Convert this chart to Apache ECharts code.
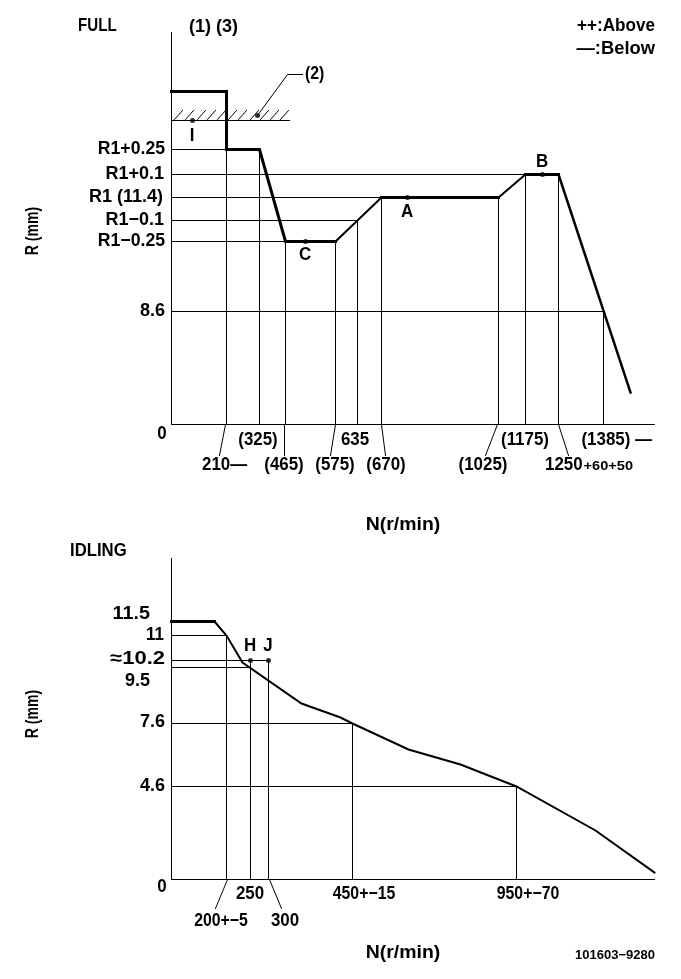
<!DOCTYPE html>
<html>
<head>
<meta charset="utf-8">
<style>html,body{margin:0;padding:0;background:#fff}#main{width:681px;height:979px}</style>
<script src="https://cdn.jsdelivr.net/npm/echarts@6/dist/echarts.min.js"></script>
</head>
<body>
<div id="main"></div>
<script>
// the drawing is a schematic, not to scale, so both axes run in drawing units
var fullHeavy = [[0,333],[55,333],[55,275],[88,275],[114,183],[164,183]];
var fullRise1 = [[164,183],[210,227]];
var fullFlat = [[210,227],[327,227]];
var fullRise2 = [[327,227],[354,250]];
var fullTop = [[354,250],[387,250]];
var fullFall = [[387,250],[459,32]];
var fullLevels = [[275,55],[250,354],[227,210],[204,186],[183,114],[113,432]];
var fullDrops = [[55,275],[88,275],[114,183],[164,183],[186,204],[210,227],[327,227],[354,250],[387,250],[432,113]];
var fullLeaders = [[[54,0],[48,-31]],[[113,0],[113,-31]],[[164,0],[159,-31]],[[210,0],[214,-31]],[[326,0],[314,-31]],[[387,0],[397,-31]]];
var fullDots = [[21,304],[86,309],[134,183],[236,227],[371,250]];
var stopLine = [[1,304],[118,304]];
var stopLeader = [[86,309],[116,350],[131,350]];
var hatchStarts = [3,14,26,36,46,57,67,79,89,99,109];

var idleHeavy = [[0,258],[43,258]];
var idleCurve = [[43,258],[55,244],[71,217],[130,176],[169,162],[181,156],[237,130],[289,115],[345,93],[424,49],[483,7]];
var idleLevels = [[244,55],[219,97],[212,79],[156,181],[93,345]];
var idleDrops = [[55,244],[79,219],[97,219],[181,156],[345,93]];
var idleLeaders = [[[56,0],[44,-29]],[[98,0],[110,-29]]];
var idleSideLeaders = [[[-17,264],[0,258]],[[-17,196],[0,212]]];
var idleDots = [[79,219],[97,219]];

var fullYLabels = ['R1+0.25','R1+0.1','R1 (11.4)','R1\u22120.1','R1\u22120.25','8.6','0'];
var fullXLabels = ['(325)','635','(1175)','(1385) \u2014','210\u2014','(465)','(575)','(670)','(1025)'];
var idleYLabels = ['11.5','11','\u224810.2','9.5','7.6','4.6','0'];
var idleXLabels = ['250','450+\u221215','950+\u221270','200+\u22125','300'];

var FONT = '"Liberation Sans",sans-serif';

function txt(s, x, y, align, sx, size, rot) {
    return {
        type: 'text', x: x, y: y, rotation: rot || 0, scaleX: sx || 0.94, silent: true,
        style: {
            text: s, fill: '#000', align: align || 'center', verticalAlign: 'middle',
            font: 'bold ' + (size || 18) + 'px ' + FONT
        }
    };
}

function line(data, gridIndex, width) {
    return {
        type: 'line', data: data, xAxisIndex: gridIndex, yAxisIndex: gridIndex,
        symbol: 'none', silent: true, clip: false,
        lineStyle: { color: '#000', width: width || 1, cap: 'square', join: 'miter' }
    };
}

var series = [];
// top plot: level lines, drop lines, leaders
fullLevels.forEach(function (l) { series.push(line([[0, l[0]], [l[1], l[0]]], 0)); });
fullDrops.forEach(function (d) { series.push(line([[d[0], 0], [d[0], d[1]]], 0)); });
fullLeaders.forEach(function (l) { series.push(line(l, 0)); });
series.push(line(stopLine, 0));
series.push(line(stopLeader, 0));
hatchStarts.forEach(function (h) { series.push(line([[h, 305], [h + 8, 314]], 0)); });
series.push(line(fullHeavy, 0, 3));
series.push(line(fullRise1, 0, 2));
series.push(line(fullFlat, 0, 3));
series.push(line(fullRise2, 0, 2));
series.push(line(fullTop, 0, 3));
series.push(line(fullFall, 0, 2.5));
series.push({ type: 'scatter', data: fullDots, xAxisIndex: 0, yAxisIndex: 0, symbolSize: 5, itemStyle: { color: '#000' }, silent: true });

// bottom plot
idleLevels.forEach(function (l) { series.push(line([[0, l[0]], [l[1], l[0]]], 1)); });
idleDrops.forEach(function (d) { series.push(line([[d[0], 0], [d[0], d[1]]], 1)); });
idleLeaders.forEach(function (l) { series.push(line(l, 1)); });
idleSideLeaders.forEach(function (l) { series.push(line(l, 1)); });
series.push(line(idleHeavy, 1, 3));
series.push(line(idleCurve, 1, 2));
series.push({ type: 'scatter', data: idleDots, xAxisIndex: 1, yAxisIndex: 1, symbolSize: 5, itemStyle: { color: '#000' }, silent: true });

function xAxis(gridIndex) {
    return {
        type: 'value', gridIndex: gridIndex, min: 0, max: 483,
        axisLine: { show: true, onZero: false, lineStyle: { color: '#000', width: 1 } },
        axisTick: { show: false }, axisLabel: { show: false }, splitLine: { show: false }
    };
}
function yAxis(gridIndex, max) {
    return {
        type: 'value', gridIndex: gridIndex, min: 0, max: max,
        axisLine: { show: true, onZero: false, lineStyle: { color: '#000', width: 1 } },
        axisTick: { show: false }, axisLabel: { show: false }, splitLine: { show: false }
    };
}

var texts = [
    txt('FULL', 78, 26, 'left', 0.84),
    txt('(1) (3)', 189, 27, 'left', 1),
    txt('(2)', 305, 74, 'left', 0.88),
    txt('++:Above', 655, 26, 'right', 0.95),
    txt('\u2014:Below', 655, 49, 'right', 1.02),
    txt('I', 192, 136), txt('C', 305, 255), txt('A', 407, 212), txt('B', 542, 162),
    txt('R (mm)', 33, 231, 'center', 0.78, 18, Math.PI / 2),
    txt('N(r/min)', 403, 525, 'center', 1.08),
    txt(fullYLabels[0], 165, 149, 'right', 0.98),
    txt(fullYLabels[1], 164, 174, 'right', 1),
    txt(fullYLabels[2], 163, 197, 'right', 1),
    txt(fullYLabels[3], 164, 220, 'right', 1),
    txt(fullYLabels[4], 165, 241, 'right', 0.98),
    txt(fullYLabels[5], 165, 311, 'right', 1),
    txt(fullYLabels[6], 162, 434),
    txt(fullXLabels[0], 258, 440),
    txt(fullXLabels[1], 355, 440),
    txt(fullXLabels[2], 525, 440),
    txt(fullXLabels[3], 652, 440, 'right'),
    txt(fullXLabels[4], 202, 465, 'left'),
    txt(fullXLabels[5], 284, 465),
    txt(fullXLabels[6], 335, 465),
    txt(fullXLabels[7], 386, 465),
    txt(fullXLabels[8], 483, 465),
    txt('1250', 545, 465, 'left'),
    txt('+60+50', 633, 466, 'right', 1.12, 13),

    txt('IDLING', 70, 551, 'left', 0.93),
    txt('R (mm)', 33, 714, 'center', 0.78, 18, Math.PI / 2),
    txt('N(r/min)', 403, 953, 'center', 1.08),
    txt(idleYLabels[0], 150, 614, 'right', 1.1),
    txt(idleYLabels[1], 164, 635, 'right'),
    txt(idleYLabels[2], 165, 659, 'right', 1.22),
    txt(idleYLabels[3], 150, 681, 'right', 1),
    txt(idleYLabels[4], 165, 722, 'right', 1),
    txt(idleYLabels[5], 165, 786, 'right', 1),
    txt(idleYLabels[6], 162, 887),
    txt('H', 250, 646), txt('J', 268, 646),
    txt(idleXLabels[0], 250, 894),
    txt(idleXLabels[1], 364, 894, 'center', 0.88),
    txt(idleXLabels[2], 528, 894, 'center', 0.88),
    txt(idleXLabels[3], 221, 921, 'center', 0.88),
    txt(idleXLabels[4], 285, 921),
    txt('101603\u22129280', 655, 955, 'right', 1, 13)
];

var myChart = echarts.init(document.getElementById('main'));
myChart.setOption({
    animation: false,
    backgroundColor: '#fff',
    grid: [
        { left: 171.5, top: 32.5, width: 483, height: 392 },
        { left: 171.5, top: 558.5, width: 483, height: 321 }
    ],
    xAxis: [xAxis(0), xAxis(1)],
    yAxis: [yAxis(0, 392), yAxis(1, 321)],
    series: series,
    graphic: texts
});
</script>
</body>
</html>
